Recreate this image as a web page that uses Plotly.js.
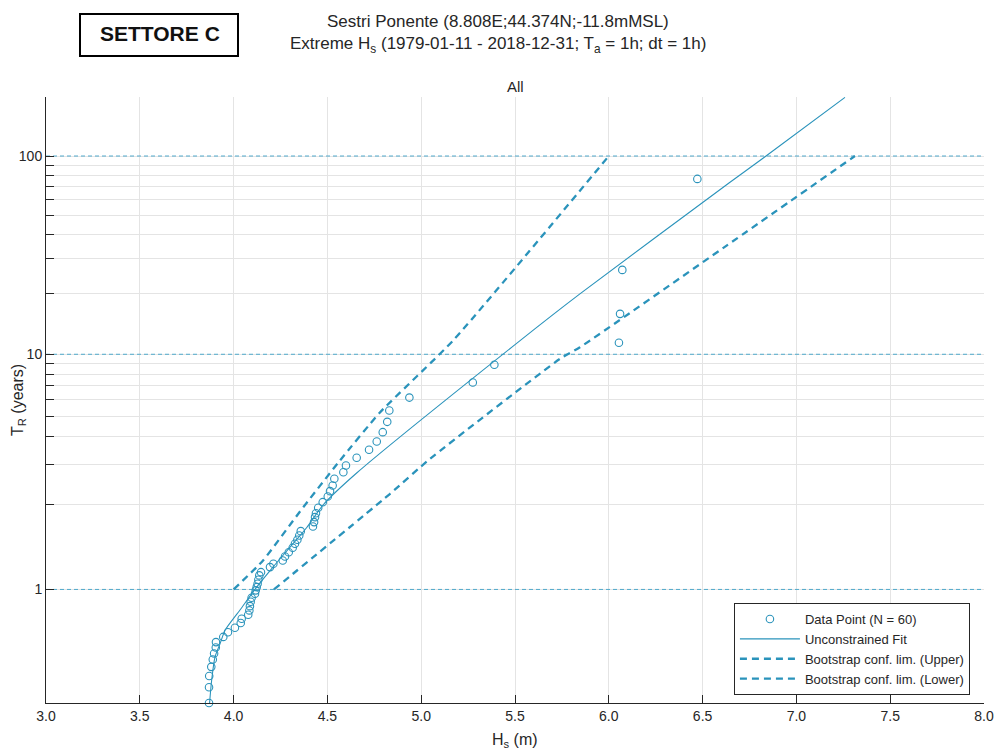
<!DOCTYPE html>
<html>
<head>
<meta charset="utf-8">
<script src="https://cdn.plot.ly/plotly-3.0.1.min.js"></script>
<style>
html,body{margin:0;padding:0;background:#fff;}
#chart{width:995px;height:749px;}
</style>
</head>
<body>
<div id="chart"></div>
<script>
// ---- data ----
const LAMBDA = 1.5; // events per year used by the return-period axis (60 events / ~40 years)

const hsPoints = [3.869,3.869,3.870,3.881,3.889,3.896,3.905,3.906,3.945,3.970,
  4.007,4.038,4.043,4.078,4.084,4.087,4.091,4.096,4.114,4.118,
  4.123,4.128,4.132,4.137,4.146,4.194,4.212,4.262,4.274,4.294,
  4.315,4.327,4.340,4.350,4.358,4.423,4.429,4.434,4.439,4.451,
  4.475,4.502,4.514,4.528,4.537,4.585,4.599,4.656,4.722,4.763,
  4.795,4.819,4.830,4.937,5.275,5.390,6.054,6.060,6.072,6.472];
const trPoints = [0.677,0.688,0.700,0.713,0.726,0.738,0.752,0.766,0.781,0.796,
  0.811,0.829,0.846,0.863,0.883,0.904,0.927,0.949,0.973,0.994,
  1.015,1.038,1.067,1.100,1.126,1.169,1.199,1.230,1.269,1.313,
  1.362,1.408,1.456,1.511,1.569,1.636,1.701,1.780,1.847,1.944,
  2.050,2.167,2.282,2.414,2.582,2.760,2.958,3.204,3.485,3.805,
  4.206,4.705,5.329,6.144,7.27,8.88,11.40,15.89,26.42,76.46];

const fitHs = [3.872,3.883,3.901,3.928,3.954,4.034,4.123,4.210,4.301,4.390,4.478,4.656,5.527,5.846,6.646,6.838,7.259];
const fitTR = [0.677,0.695,0.731,0.762,0.802,0.885,1.015,1.169,1.369,1.620,2.000,2.738,11.69,20.01,73.5,100,199];

const upperHs = [4.000,4.157,4.354,4.567,4.780,5.170,6.000];
const upperTR = [1.000,1.230,1.877,3.115,5.210,11.70,100];

const lowerHs = [4.215,4.834,5.047,5.740,5.846,6.628,7.312];
const lowerTR = [1.000,2.224,3.170,9.495,10.83,35.05,100];

const xTicks = [3.0,3.5,4.0,4.5,5.0,5.5,6.0,6.5,7.0,7.5,8.0];
const yMajor = [1,10,100];
const yMinor = [2,3,4,5,6,7,8,9,20,30,40,50,60,70,80,90,200];
const yRangeTR = [0.677,200];

// ---- return-period axis transform (Gumbel reduced variate) ----
function gum(T){ return -Math.log(-Math.log(1 - 1/(LAMBDA*T))); }

const blue = '#2a93bb';
const blueLight = '#4fa9cc';
const ink = '#262626';

const yTickTR = yMajor.concat(yMinor).sort((a,b)=>a-b);
const yTickVals = yTickTR.map(gum);
const yTickText = yTickTR.map(t => yMajor.includes(t) ? String(t) : '');

const traces = [];
// dashed reference lines at 1, 10, 100 years
yMajor.forEach(t => {
  traces.push({x:[3,8], y:[gum(t),gum(t)], mode:'lines', showlegend:false, hoverinfo:'skip',
    line:{color:blueLight, width:1, dash:'4px,3px'}});
});
traces.push({x:hsPoints, y:trPoints.map(gum), mode:'markers', name:'Data Point (N = 60)',
  cliponaxis:false,
  marker:{symbol:'circle-open', size:7.5, color:blue, line:{width:1.1, color:blue}}});
traces.push({x:fitHs, y:fitTR.map(gum), mode:'lines', name:'Unconstrained Fit',
  line:{color:blue, width:1.1, shape:'spline', smoothing:0.7}});
traces.push({x:upperHs, y:upperTR.map(gum), mode:'lines', name:'Bootstrap conf. lim. (Upper)',
  line:{color:blue, width:2.3, dash:'7px,5px', shape:'spline', smoothing:0.5}});
traces.push({x:lowerHs, y:lowerTR.map(gum), mode:'lines', name:'Bootstrap conf. lim. (Lower)',
  line:{color:blue, width:2.3, dash:'7px,5px', shape:'spline', smoothing:0.5}});

// pixel -> paper helpers (plot area: x 46..984, y 97..703)
const px = v => (v-46)/938;
const py = v => (703-v)/606;

const layout = {
  width:995, height:749,
  margin:{l:46, r:11, t:97, b:46, pad:0},
  paper_bgcolor:'#ffffff', plot_bgcolor:'#ffffff',
  font:{family:'"Liberation Sans", Arial, sans-serif', color:ink, size:14},
  showlegend:true,
  xaxis:{range:[3,8], tickvals:xTicks, ticktext:xTicks.map(v=>v.toFixed(1)),
    ticks:'inside', ticklen:8, tickwidth:1, tickcolor:ink,
    showline:true, linecolor:ink, linewidth:1, mirror:false,
    showgrid:true, gridcolor:'#e4e4e4', gridwidth:1, zeroline:false,
    tickfont:{size:14, color:ink}},
  yaxis:{range:[gum(yRangeTR[0]), gum(yRangeTR[1])], tickvals:yTickVals, ticktext:yTickText,
    ticks:'inside', ticklen:8, tickwidth:1, tickcolor:ink,
    showline:true, linecolor:ink, linewidth:1, mirror:false,
    showgrid:true, gridcolor:'#e4e4e4', gridwidth:1, zeroline:false,
    tickfont:{size:14, color:ink}},
  legend:{x:0.985, xanchor:'right', y:py(695), yanchor:'bottom',
    bgcolor:'#ffffff', bordercolor:ink, borderwidth:1, itemwidth:60,
    font:{size:13, color:ink}, tracegroupgap:0},
  shapes:[
    {type:'rect', xref:'paper', yref:'paper', x0:px(80), x1:px(238), y0:py(56), y1:py(14),
     line:{color:'#000', width:2}, fillcolor:'rgba(0,0,0,0)', layer:'above'}
  ],
  annotations:[
    {xref:'paper', yref:'paper', x:px(160), y:py(34), xanchor:'center', yanchor:'middle', showarrow:false,
     text:'<b>SETTORE C</b>', font:{size:21, color:'#111'}},
    {xref:'paper', yref:'paper', x:px(498), y:py(22), xanchor:'center', yanchor:'middle', showarrow:false,
     text:'Sestri Ponente (8.808E;44.374N;-11.8mMSL)', font:{size:17, color:ink}},
    {xref:'paper', yref:'paper', x:px(498), y:py(45), xanchor:'center', yanchor:'middle', showarrow:false,
     text:'Extreme H<sub>s</sub> (1979-01-11 - 2018-12-31; T<sub>a</sub> = 1h; dt = 1h)', font:{size:17, color:ink}},
    {xref:'paper', yref:'paper', x:px(515), y:py(87), xanchor:'center', yanchor:'middle', showarrow:false,
     text:'All', font:{size:15, color:ink}},
    {xref:'paper', yref:'paper', x:px(515), y:py(740), xanchor:'center', yanchor:'middle', showarrow:false,
     text:'H<sub>s</sub> (m)', font:{size:16, color:ink}},
    {xref:'paper', yref:'paper', x:px(18), y:py(400), xanchor:'center', yanchor:'middle', showarrow:false,
     textangle:-90, text:'T<sub>R</sub> (years)', font:{size:16, color:ink}}
  ]
};

Plotly.newPlot('chart', traces, layout, {displayModeBar:false, staticPlot:true});
</script>
</body>
</html>
